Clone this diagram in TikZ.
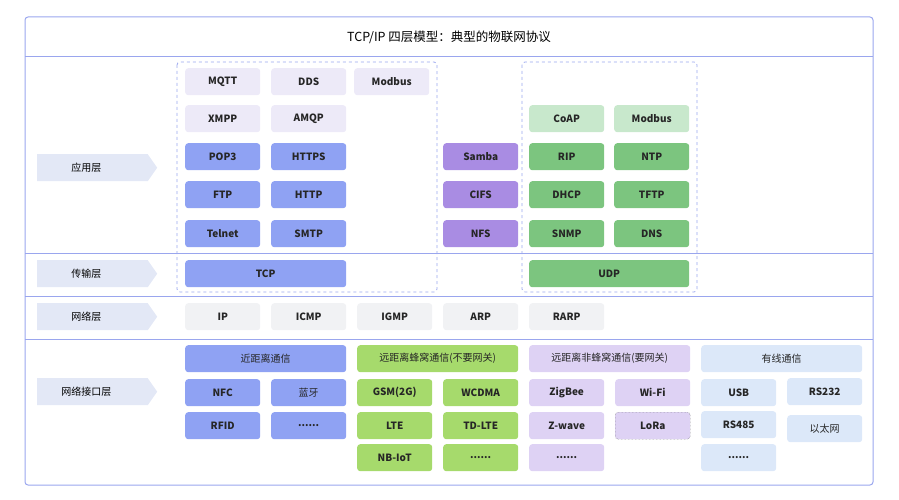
\documentclass[tikz,border=0pt]{standalone}
\usepackage{fontspec}
\setmainfont{Noto Sans CJK SC}
\usetikzlibrary{shapes.symbols,calc}
\definecolor{frm}{HTML}{9AA6EE}
\definecolor{cblue}{HTML}{8FA2F3}
\definecolor{clav}{HTML}{EDEAF8}
\definecolor{cpur}{HTML}{A98CE3}
\definecolor{cgrn}{HTML}{7CC57F}
\definecolor{clgrn}{HTML}{C8E8CC}
\definecolor{cgray}{HTML}{F1F2F4}
\definecolor{carr}{HTML}{E3E8F6}
\definecolor{clime}{HTML}{A6DA6C}
\definecolor{clpur}{HTML}{DED2F4}
\definecolor{clblue}{HTML}{DCE8F9}
\tikzset{bx/.style={rounded corners=3pt,inner sep=0pt,anchor=north west,font=\bfseries\fontsize{10}{12}\selectfont,text=black!85},
lab/.style={signal,signal to=east,signal pointer angle=110,fill=carr,inner sep=0pt,anchor=north west,minimum width=120pt,minimum height=27pt,font=\fontsize{10}{12}\selectfont},
dbox/.style={draw=frm,dashed,line width=0.8pt,rounded corners=3pt}}
\newcommand\bx[7]{\node[bx,fill=#6,minimum width={(#4-#2)*1pt},minimum height={(#5-#3)*1pt}] (#1) at (#2,#3) {#7};}
\begin{document}
\begin{tikzpicture}[x=1pt,y=-1pt]
\useasboundingbox (0,0) rectangle (899,500);
\draw[frm,line width=1pt,rounded corners=3pt] (25,17) rectangle (873,485);
\foreach \yy in {57,253,296,339}{\draw[frm,line width=1pt] (25,\yy) -- (873,\yy);}
\node (title) at (449,37) {\fontsize{12.5}{14}\selectfont TCP/IP 四层模型：典型的物联网协议};
\node[lab] (l1) at (37,154) {\hspace*{-12pt}应用层};
\node[lab] (l2) at (37,260) {\hspace*{-12pt}传输层};
\node[lab] (l3) at (37,303) {\hspace*{-12pt}网络层};
\node[lab] (l4) at (37,378) {\hspace*{-12pt}网络接口层};
\draw[dbox] (177,62) rectangle (437,292);
\draw[dbox] (522,62) rectangle (697,292);
\bx{mqtt}{185}{68}{260}{95}{clav}{MQTT}
\bx{dds}{271}{68}{346}{95}{clav}{DDS}
\bx{modb}{354}{68}{429}{95}{clav}{Modbus}
\bx{xmpp}{185}{105}{260}{132}{clav}{XMPP}
\bx{amqp}{271}{105}{346}{132}{clav}{AMQP}
\bx{pop}{185}{143}{260}{170}{cblue}{POP3}
\bx{https}{271}{143}{346}{170}{cblue}{HTTPS}
\bx{ftp}{185}{181}{260}{208}{cblue}{FTP}
\bx{http}{271}{181}{346}{208}{cblue}{HTTP}
\bx{tel}{185}{220}{260}{247}{cblue}{Telnet}
\bx{smtp}{271}{220}{346}{247}{cblue}{SMTP}
\bx{tcp}{185}{260}{346}{287}{cblue}{TCP}
\bx{samba}{443}{143}{518}{170}{cpur}{Samba}
\bx{cifs}{443}{181}{518}{208}{cpur}{CIFS}
\bx{nfs}{443}{220}{518}{247}{cpur}{NFS}
\bx{coap}{529}{105}{604}{132}{clgrn}{CoAP}
\bx{modb2}{614}{105}{689}{132}{clgrn}{Modbus}
\bx{rip}{529}{143}{604}{170}{cgrn}{RIP}
\bx{ntp}{614}{143}{689}{170}{cgrn}{NTP}
\bx{dhcp}{529}{181}{604}{208}{cgrn}{DHCP}
\bx{tftp}{614}{181}{689}{208}{cgrn}{TFTP}
\bx{snmp}{529}{220}{604}{247}{cgrn}{SNMP}
\bx{dns}{614}{220}{689}{247}{cgrn}{DNS}
\bx{udp}{529}{260}{689}{287}{cgrn}{UDP}
\bx{ip}{185}{303}{260}{330}{cgray}{IP}
\bx{icmp}{271}{303}{346}{330}{cgray}{ICMP}
\bx{igmp}{357}{303}{432}{330}{cgray}{IGMP}
\bx{arp}{443}{303}{518}{330}{cgray}{ARP}
\bx{rarp}{529}{303}{604}{330}{cgray}{RARP}
\tikzset{bx/.append style={}}
\bx{h1}{185}{345}{346}{372}{cblue}{\mdseries 近距离通信}
\bx{h2}{357}{345}{518}{372}{clime}{\mdseries 远距离蜂窝通信(不要网关)}
\bx{h3}{529}{345}{690}{372}{clpur}{\mdseries 远距离非蜂窝通信(要网关)}
\bx{h4}{701}{345}{862}{372}{clblue}{\mdseries 有线通信}
\bx{nfc}{185}{379}{260}{406}{cblue}{NFC}
\bx{bt}{271}{379}{346}{406}{cblue}{\mdseries 蓝牙}
\bx{rfid}{185}{412}{260}{439}{cblue}{RFID}
\bx{d1}{271}{412}{346}{439}{cblue}{......}
\bx{gsm}{357}{379}{432}{406}{clime}{GSM(2G)}
\bx{wcd}{443}{379}{518}{406}{clime}{WCDMA}
\bx{lte}{357}{412}{432}{439}{clime}{LTE}
\bx{tdl}{443}{412}{518}{439}{clime}{TD-LTE}
\bx{nb}{357}{444}{432}{471}{clime}{NB-IoT}
\bx{d2}{443}{444}{518}{471}{clime}{......}
\bx{zig}{529}{379}{604}{406}{clpur}{ZigBee}
\bx{wifi}{615}{379}{690}{406}{clpur}{Wi-Fi}
\bx{zw}{529}{412}{604}{439}{clpur}{Z-wave}
\node[bx,fill=clpur,draw=black!60,densely dotted,minimum width=75pt,minimum height=27pt] (lora) at (615,412) {LoRa};
\bx{d3}{529}{444}{604}{471}{clpur}{......}
\bx{usb}{701}{379}{776}{406}{clblue}{USB}
\bx{rs232}{787}{378}{862}{405}{clblue}{RS232}
\bx{rs485}{701}{411}{776}{438}{clblue}{RS485}
\bx{eth}{787}{415}{862}{442}{clblue}{\mdseries 以太网}
\bx{d4}{701}{444}{776}{471}{clblue}{......}
\end{tikzpicture}
\end{document}
